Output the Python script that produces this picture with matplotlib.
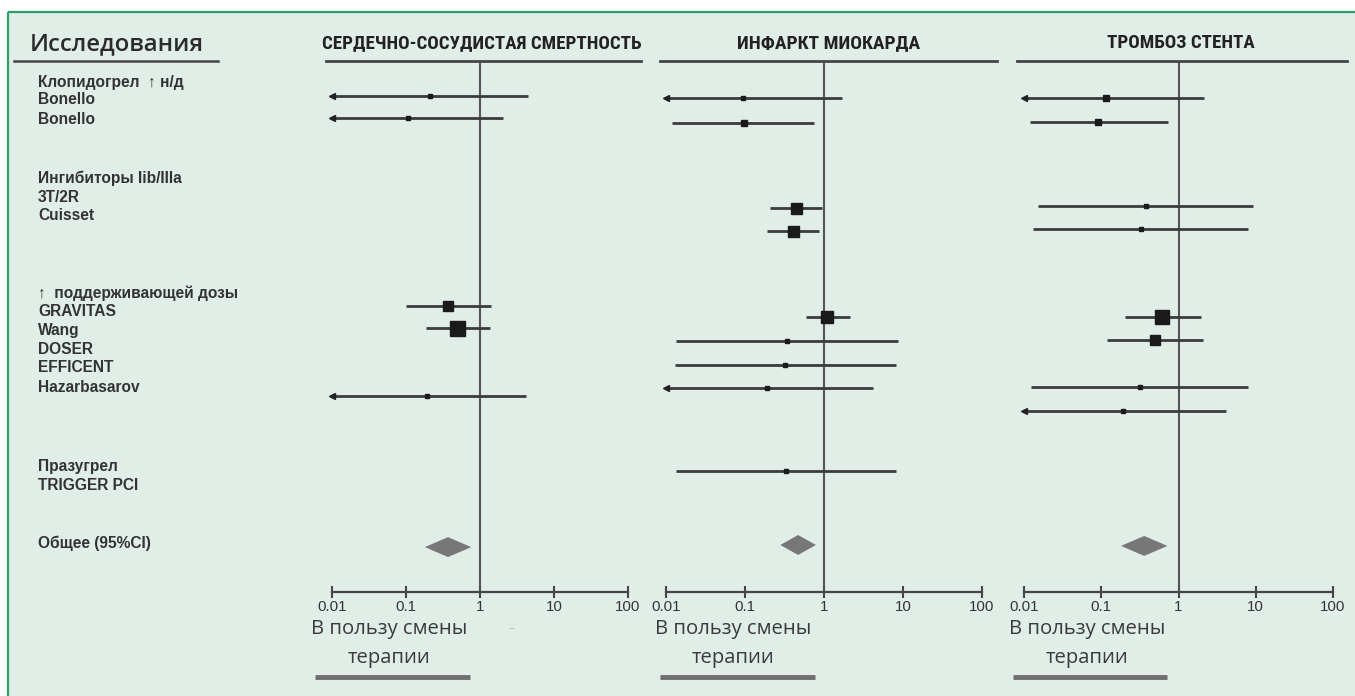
import matplotlib
matplotlib.use('Agg')
import matplotlib.pyplot as plt
from matplotlib import font_manager
from matplotlib.patches import Rectangle
import numpy as np

# ---------------- data ----------------
panel_titles = ["СЕРДЕЧНО-СОСУДИСТАЯ СМЕРТНОСТЬ", "ИНФАРКТ МИОКАРДА", "ТРОМБОЗ СТЕНТА"]

tick_values = [0.01, 0.1, 1, 10, 100]
tick_labels = ["0.01", "0.1", "1", "10", "100"]

study_labels = ["Клопидогрел  ↑ н/д", "Bonello", "Bonello",
                "Ингибиторы Iib/IIIa", "3T/2R", "Cuisset",
                "↑  поддерживающей дозы", "GRAVITAS", "Wang", "DOSER", "EFFICENT", "Hazarbasarov",
                "Празугрел", "TRIGGER PCI",
                "Общее (95%CI)"]

# Panel 1: cardiovascular death
cv_studies = ["Bonello", "Bonello", "GRAVITAS", "Wang", "Hazarbasarov"]
cv_row = [-0.08, 0.84, 8.78, 9.70, 12.57]
cv_est = [0.211, 0.106, 0.37, 0.49, 0.192]
cv_lo = [0.01, 0.01, 0.10, 0.186, 0.01]
cv_hi = [4.45, 2.05, 1.41, 1.36, 4.19]
cv_trunc = [True, True, False, False, True]
cv_weight = [5, 5, 10, 15, 5]
cv_overall = (0.37, 0.18, 0.76)      # estimate, low, high
cv_overall_row = 18.95

# Panel 2: myocardial infarction
mi_studies = ["Bonello", "Bonello", "3T/2R", "Cuisset", "GRAVITAS", "DOSER", "EFFICENT",
              "Hazarbasarov", "TRIGGER PCI"]
mi_row = [0.0, 1.05, 4.64, 5.61, 9.24, 10.25, 11.27, 12.24, 15.74]
mi_est = [0.094, 0.097, 0.44, 0.405, 1.09, 0.34, 0.32, 0.19, 0.33]
mi_lo = [0.01, 0.0119, 0.207, 0.19, 0.59, 0.0134, 0.013, 0.01, 0.0134]
mi_hi = [1.69, 0.75, 0.94, 0.86, 2.13, 8.65, 8.15, 4.17, 8.15]
mi_trunc = [True, False, False, False, False, False, False, True, False]
mi_weight = [5, 6, 11, 11, 12, 5, 5, 5, 5]
mi_overall = (0.47, 0.28, 0.79)
mi_overall_row = 18.86

# Panel 3: stent thrombosis
st_studies = ["Bonello", "Bonello", "3T/2R", "Cuisset", "GRAVITAS", "Wang", "DOSER", "Hazarbasarov"]
st_row = [0.0, 1.01, 4.56, 5.53, 9.24, 10.21, 12.19, 13.21]
st_est = [0.114, 0.092, 0.374, 0.33, 0.62, 0.50, 0.32, 0.19]
st_lo = [0.01, 0.0118, 0.015, 0.0129, 0.20, 0.12, 0.0125, 0.01]
st_hi = [2.11, 0.74, 9.35, 8.05, 1.93, 2.05, 8.05, 4.18]
st_trunc = [True, False, False, False, False, False, False, True]
st_weight = [6, 6, 5, 5, 14, 10, 5, 5]
st_overall = (0.36, 0.18, 0.72)
st_overall_row = 18.90

favour_line1 = "В пользу смены"
favour_line2 = "терапии"

# ---------------- layout ----------------
W, H = 1355, 696
DPI = 100
SLOT_PX, SLOT0_PX = 23.7, 98.0          # row unit in pixels, pixel of row 0
ytop = (0 - SLOT0_PX) / SLOT_PX
ybot = (H - SLOT0_PX) / SLOT_PX
TOPLINE_ROW = (61 - SLOT0_PX) / SLOT_PX
AXIS_ROW = (592 - SLOT0_PX) / SLOT_PX

BG = "#e0eee7"
GREEN = "#2f9e68"
INK = "#333333"
LINE = "#3c3c3c"

names = {f.name for f in font_manager.fontManager.ttflist}
def pick(*cands):
    for c in cands:
        if c in names:
            return c
    return "DejaVu Sans"
TITLE_FONT = pick("Liberation Sans Narrow", "DejaVu Sans Condensed", "Roboto Condensed", "Liberation Sans")
HEAD_FONT = pick("Open Sans", "Noto Sans", "DejaVu Sans")
LABEL_FONT = pick("Liberation Sans", "DejaVu Sans")
FAV_FONT = pick("Open Sans", "Noto Sans", "DejaVu Sans")

fig = plt.figure(figsize=(W / DPI, H / DPI), dpi=DPI)
fig.patch.set_facecolor("white")

deco = fig.add_axes([0, 0, 1, 1], zorder=0)
deco.set_xlim(0, W)
deco.set_ylim(H, 0)
deco.axis("off")
deco.add_patch(Rectangle((8, 12), W - 8, H - 12, facecolor=BG, edgecolor="none"))
deco.plot([8, W], [12, 12], color=GREEN, lw=1.6, solid_capstyle="butt")
deco.plot([8, 8], [12, H], color=GREEN, lw=1.6, solid_capstyle="butt")

# header "Исследования"
deco.text(30, 44, "Исследования", fontsize=17.2, fontfamily=HEAD_FONT, fontweight="semibold",
          color="#2b2b2b", ha="left", va="center")
deco.plot([14, 218], [61, 61], color="#444444", lw=1.8)

# study labels
label_px = [82, 100, 120, 178, 197, 215, 293, 312, 330, 349, 368, 388, 467, 486, 543]
for txt, py in zip(study_labels, label_px):
    deco.text(38, py, txt, fontsize=11.2, fontfamily=[LABEL_FONT, "DejaVu Sans"], fontweight="bold",
              color=INK, ha="left", va="center")

panels = [
    dict(left=326, right=641, p0=332, p100=628, title=panel_titles[0], tx=482, tw=320,
         row=cv_row, est=cv_est, lo=cv_lo, hi=cv_hi, trunc=cv_trunc, w=cv_weight,
         ov=cv_overall, ovrow=cv_overall_row, fav_cx=389, bar=(315, 470)),
    dict(left=660, right=997, p0=666, p100=982, title=panel_titles[1], tx=829, tw=184,
         row=mi_row, est=mi_est, lo=mi_lo, hi=mi_hi, trunc=mi_trunc, w=mi_weight,
         ov=mi_overall, ovrow=mi_overall_row, fav_cx=733, bar=(660, 815)),
    dict(left=1017, right=1347, p0=1024, p100=1333, title=panel_titles[2], tx=1181, tw=148,
         row=st_row, est=st_est, lo=st_lo, hi=st_hi, trunc=st_trunc, w=st_weight,
         ov=st_overall, ovrow=st_overall_row, fav_cx=1087, bar=(1013, 1167)),
]

title_texts = []
for p in panels:
    dec = (p["p100"] - p["p0"]) / 4.0
    xmin = 10 ** (-2 - (p["p0"] - p["left"]) / dec)
    xmax = 10 ** (2 + (p["right"] - p["p100"]) / dec)
    ax = fig.add_axes([p["left"] / W, 0, (p["right"] - p["left"]) / W, 1], zorder=2)
    ax.patch.set_alpha(0)
    ax.set_xscale("log")
    ax.set_xlim(xmin, xmax)
    ax.set_ylim(ybot, ytop)
    for s in ("left", "right"):
        ax.spines[s].set_visible(False)
    ax.spines["top"].set_position(("data", TOPLINE_ROW))
    ax.spines["top"].set_color("#454545")
    ax.spines["top"].set_linewidth(2.0)
    ax.spines["bottom"].set_position(("data", AXIS_ROW))
    ax.spines["bottom"].set_bounds(0.01, 100)
    ax.spines["bottom"].set_color("#454545")
    ax.spines["bottom"].set_linewidth(1.6)
    ax.set_yticks([])
    ax.set_xticks(tick_values)
    ax.set_xticklabels(tick_labels)
    ax.xaxis.set_minor_locator(matplotlib.ticker.NullLocator())
    ax.tick_params(axis="x", which="major", direction="inout", length=9, width=1.5,
                   color="#454545", labelsize=10.8, labelcolor=INK, pad=1, top=False)
    for lab in ax.get_xticklabels():
        lab.set_fontfamily(LABEL_FONT)

    # line of no effect
    ax.vlines(1, TOPLINE_ROW, AXIS_ROW, color="#555555", lw=1.5, zorder=2)

    # studies
    for r, e, lo, hi, tr, w in zip(p["row"], p["est"], p["lo"], p["hi"], p["trunc"], p["w"]):
        ax.plot([lo, hi], [r, r], color=LINE, lw=2.0, solid_capstyle="butt", zorder=3)
        if tr:
            ax.plot([lo], [r], marker="<", ms=4.5, color="#222222", mec="#222222", zorder=4)
        ax.plot([e], [r], marker="s", ms=w * 0.72, color="#1a1a1a", mec="#1a1a1a", zorder=5)

    # overall diamond
    e, lo, hi = p["ov"]
    rr = p["ovrow"]
    hh = 0.42
    ax.fill([lo, e, hi, e], [rr, rr - hh, rr, rr + hh], color="#777777", lw=0, zorder=4)

    # title
    t = deco.text(p["tx"], 43, p["title"], fontsize=15, fontfamily=TITLE_FONT, fontweight="bold",
                  color="#222222", ha="center", va="center")
    title_texts.append((t, p["tw"]))

    # favour text + bar
    deco.text(p["fav_cx"], 629, favour_line1, fontsize=14.6, fontfamily=FAV_FONT, color="#3a3a3a",
              ha="center", va="center")
    deco.text(p["fav_cx"], 658, favour_line2, fontsize=14.6, fontfamily=FAV_FONT, color="#3a3a3a",
              ha="center", va="center")
    deco.plot(list(p["bar"]), [677, 677], color="#6f6f6f", lw=3.5, solid_capstyle="butt")

deco.text(512, 629, "–", fontsize=9, color="#b9c4be", ha="center", va="center")

# fit title widths
fig.canvas.draw()
r = fig.canvas.get_renderer()
for t, tw in title_texts:
    bw = t.get_window_extent(r).width
    if bw > 0:
        t.set_fontsize(t.get_fontsize() * tw / bw)

fig.savefig("out.png", dpi=DPI, facecolor=fig.get_facecolor())
